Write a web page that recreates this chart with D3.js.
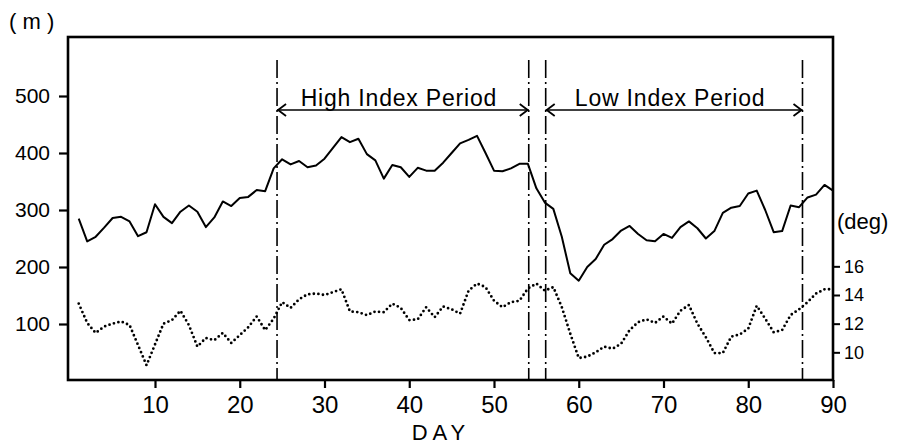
<!DOCTYPE html>
<html>
<head>
<meta charset="utf-8">
<script src="https://cdn.jsdelivr.net/npm/d3@7"></script>
<style>
  html,body{margin:0;padding:0;background:#fff;}
  svg{display:block;}
  text{font-family:"Liberation Sans", Arial, sans-serif; fill:#000;}
</style>
</head>
<body>
<svg id="chart" width="898" height="444"></svg>
<script>
// ---- data ----
const days = d3.range(1, 91);
// solid line: height (m), left axis
const heightM = [285,245,253,269,286,288,280,254,261,310,
                 288,277,297,308,297,270,287,315,307,321,
                 323,335,333,373,389,380,386,375,378,390,
                 409,428,419,425,398,387,355,379,375,358,
                 374,369,369,383,400,417,423,430,400,369,
                 368,373,381,381,338,313,302,253,189,176,
                 200,214,239,249,264,272,258,247,245,258,
                 251,270,280,268,250,263,295,304,307,329,
                 334,300,261,263,308,305,322,327,344,334];
// dotted line: angle (deg), right axis
const angleDeg = [13.4,12.05,11.35,11.8,12.0,12.15,11.9,10.5,9.1,10.55,
                  12.0,12.25,12.9,11.9,10.4,11.0,10.85,11.35,10.65,11.2,
                  11.75,12.5,11.55,12.35,13.5,13.1,13.7,14.05,14.1,14.0,
                  14.2,14.4,12.85,12.8,12.6,12.85,12.8,13.4,13.1,12.25,
                  12.3,13.15,12.45,13.2,13.0,12.7,14.3,14.8,14.55,13.6,
                  13.15,13.5,13.6,14.45,14.8,14.3,14.55,13.15,11.3,9.6,
                  9.7,10.0,10.4,10.25,10.6,11.55,12.1,12.3,12.05,12.5,
                  12.0,12.9,13.3,12.0,11.05,9.95,9.95,11.1,11.25,11.65,
                  13.25,12.35,11.4,11.55,12.6,13.0,13.5,14.1,14.4,14.4];
const xTicks = [10,20,30,40,50,60,70,80,90];
const yLeftTicks = [100,200,300,400,500];
const yRightTicks = [10,12,14,16];
const periods = [
  {label:"High Index Period", start:24.4, end:54.1},
  {label:"Low Index Period",  start:56.1, end:86.4}
];

// ---- layout ----
const svg = d3.select("#chart");
const frame = {left:68, right:833, top:37, bottom:380};
const x = d3.scaleLinear().domain([0, 90]).range([70.25, 833]);
const yL = d3.scaleLinear().domain([0, 600]).range([381, 39]);
const yR = d3.scaleLinear().domain([8, 32]).range([381, 37]);

// frame
svg.append("rect")
  .attr("x", frame.left).attr("y", frame.top)
  .attr("width", frame.right - frame.left).attr("height", frame.bottom - frame.top)
  .attr("fill", "none").attr("stroke", "#000").attr("stroke-width", 2.6);

// bottom axis
const xAxis = svg.append("g").attr("transform", `translate(0,${frame.bottom})`)
  .call(d3.axisBottom(x).tickValues(xTicks).tickSize(8).tickPadding(8).tickFormat(d3.format("d")));
xAxis.select(".domain").remove();
xAxis.selectAll("line").attr("stroke", "#000").attr("stroke-width", 2.2);
xAxis.selectAll("text").attr("font-size", 24).attr("fill", "#000");

// left axis
const lAxis = svg.append("g").attr("transform", `translate(${frame.left},0)`)
  .call(d3.axisLeft(yL).tickValues(yLeftTicks).tickSize(9).tickPadding(9));
lAxis.select(".domain").remove();
lAxis.selectAll("line").attr("stroke", "#000").attr("stroke-width", 2.2);
lAxis.selectAll("text").attr("font-size", 21).attr("fill", "#000");

// right axis
const rAxis = svg.append("g").attr("transform", `translate(${frame.right},0)`)
  .call(d3.axisRight(yR).tickValues(yRightTicks).tickSize(7).tickPadding(4));
rAxis.select(".domain").remove();
rAxis.selectAll("line").attr("stroke", "#000").attr("stroke-width", 2);
rAxis.selectAll("text").attr("font-size", 18).attr("fill", "#000");

// unit labels
svg.append("text").attr("x", 9).attr("y", 29).attr("font-size", 22)
  .attr("xml:space", "preserve").text("( m )");
svg.append("text").attr("x", 837).attr("y", 229).attr("font-size", 22).text("(deg)");
svg.append("text").attr("x", 441).attr("y", 440).attr("font-size", 22)
  .attr("text-anchor", "middle").attr("letter-spacing", 5).text("DAY");

// period boundaries
const bounds = periods.flatMap(p => [p.start, p.end]);
svg.selectAll(".bound").data(bounds).join("line")
  .attr("x1", d => x(d)).attr("x2", d => x(d))
  .attr("y1", 60).attr("y2", frame.bottom)
  .attr("stroke", "#000").attr("stroke-width", 1.6)
  .attr("stroke-dasharray", "18,4,2,4");

// arrows + labels
const arrowY = 110;
periods.forEach(p => {
  const x0 = x(p.start), x1 = x(p.end);
  svg.append("line").attr("x1", x0).attr("x2", x1).attr("y1", arrowY).attr("y2", arrowY)
    .attr("stroke", "#000").attr("stroke-width", 1.5);
  svg.append("path")
    .attr("d", `M${x0+9},${arrowY-6} L${x0+1},${arrowY} L${x0+9},${arrowY+6}`)
    .attr("fill", "none").attr("stroke", "#000").attr("stroke-width", 1.8);
  svg.append("path")
    .attr("d", `M${x1-9},${arrowY-6} L${x1-1},${arrowY} L${x1-9},${arrowY+6}`)
    .attr("fill", "none").attr("stroke", "#000").attr("stroke-width", 1.8);
  svg.append("text").attr("x", (x0 + x1) / 2 - 4).attr("y", arrowY - 4)
    .attr("text-anchor", "middle").attr("font-size", 23).attr("letter-spacing", 0.8)
    .text(p.label);
});

// solid line
const lineL = d3.line().x((d, i) => x(days[i])).y(d => yL(d));
svg.append("path").datum(heightM).attr("d", lineL)
  .attr("fill", "none").attr("stroke", "#000").attr("stroke-width", 2)
  .attr("stroke-linejoin", "round");

// dotted line
const lineR = d3.line().x((d, i) => x(days[i])).y(d => yR(d));
svg.append("path").datum(angleDeg).attr("d", lineR)
  .attr("fill", "none").attr("stroke", "#000").attr("stroke-width", 2.8)
  .attr("stroke-linecap", "round").attr("stroke-dasharray", "0,4.6");
</script>
</body>
</html>
